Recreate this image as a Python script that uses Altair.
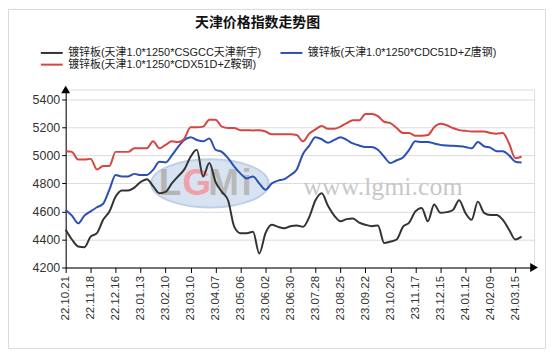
import altair as alt
import pandas as pd

# ---- data ----
dates = [
    "22.10.21", "22.10.28", "22.11.04", "22.11.11", "22.11.18", "22.11.25", "22.12.02", "22.12.09",
    "22.12.16", "22.12.23", "22.12.30", "23.01.06", "23.01.13", "23.01.20", "23.01.27", "23.02.03",
    "23.02.10", "23.02.17", "23.02.24", "23.03.03", "23.03.10", "23.03.17", "23.03.24", "23.03.31",
    "23.04.07", "23.04.14", "23.04.21", "23.04.28", "23.05.06", "23.05.12", "23.05.19", "23.05.26",
    "23.06.02", "23.06.09", "23.06.16", "23.06.23", "23.06.30", "23.07.07", "23.07.14", "23.07.21",
    "23.07.28", "23.08.04", "23.08.11", "23.08.18", "23.08.25", "23.09.01", "23.09.08", "23.09.15",
    "23.09.22", "23.09.29", "23.10.06", "23.10.13", "23.10.20", "23.10.27", "23.11.03", "23.11.10",
    "23.11.17", "23.11.24", "23.12.01", "23.12.08", "23.12.15", "23.12.22", "23.12.29", "24.01.05",
    "24.01.12", "24.01.19", "24.01.26", "24.02.02", "24.02.09", "24.02.23", "24.03.01", "24.03.08",
    "24.03.15", "24.03.22",
]

black = [4470, 4400, 4350, 4345, 4420, 4445, 4540, 4600, 4706, 4750,
         4750, 4770, 4810, 4830, 4780, 4730, 4740, 4800, 4850, 4900,
         4990, 5040, 4850, 4945, 4810, 4740, 4680, 4490, 4445, 4445,
         4455, 4300, 4445, 4505, 4490, 4480, 4495, 4500, 4490, 4560,
         4680, 4730, 4640, 4570, 4530, 4545, 4550, 4520, 4505, 4495,
         4500, 4375, 4385, 4400, 4490, 4520, 4600, 4625, 4530, 4650,
         4590, 4595, 4610, 4680, 4590, 4540, 4670, 4590, 4575, 4575,
         4540, 4470, 4400, 4420]

blue = [4610, 4570, 4515, 4570, 4600, 4630, 4655, 4755, 4860, 4850,
        4850, 4868, 4860, 4860, 4897, 4955, 4950, 5000, 5060, 5110,
        5130, 5110, 5100, 5120, 5040, 5025, 4980, 4920, 4870, 4835,
        4850, 4800, 4755, 4800, 4820, 4830, 4860, 4900, 5010, 5070,
        5130, 5115, 5090, 5110, 5130, 5110, 5085, 5070, 5060, 5060,
        5040, 4990, 4945, 4965, 4985, 5040, 5100, 5095, 5095, 5085,
        5075, 5070, 5068, 5065, 5060, 5050, 5095, 5065, 5055, 5030,
        5030, 5000, 4955, 4950]

red = [5030, 5025, 4970, 4970, 4975, 4900, 4925, 4925, 5025, 5025,
       5025, 5050, 5050, 5050, 5100, 5050, 5075, 5100, 5095, 5120,
       5200, 5200, 5205, 5255, 5255, 5205, 5195, 5195, 5180, 5180,
       5178, 5180, 5170, 5150, 5150, 5150, 5150, 5145, 5100, 5155,
       5185, 5210, 5190, 5190, 5205, 5230, 5250, 5250, 5295, 5295,
       5280, 5240, 5230, 5195, 5160, 5160, 5140, 5140, 5145, 5200,
       5225, 5215, 5195, 5180, 5175, 5170, 5170, 5170, 5160, 5155,
       5160, 5085, 4980, 4990]

name_black = "镀锌板(天津1.0*1250*CSGCC天津新宇)"
name_blue = "镀锌板(天津1.0*1250*CDC51D+Z唐钢)"
name_red = "镀锌板(天津1.0*1250*CDX51D+Z鞍钢)"
# legend is laid out column by column: black, red (col 1), blue (col 2)
legend_order = [name_black, name_red, name_blue]
legend_colors = ["#333333", "#d64541", "#2a4fb8"]
title_text = "天津价格指数走势图"
y_ticks = [4200, 4400, 4600, 4800, 5000, 5200, 5400]
tick_idx = list(range(0, 73, 4))

FONT = "Liberation Sans, Arial, Noto Sans CJK SC"

rows = []
for name, vals in [(name_black, black), (name_blue, blue), (name_red, red)]:
    for i, v in enumerate(vals):
        rows.append({"idx": i, "date": dates[i], "series": name, "value": v})
df = pd.DataFrame(rows)

label_js = "[" + ",".join("'" + d + "'" for d in dates) + "]"

x_scale = alt.Scale(domain=[0, 75], nice=False, zero=False)
y_scale = alt.Scale(domain=[4200, 5470], nice=False, zero=False)

x_axis = alt.Axis(values=tick_idx, labelExpr=label_js + "[datum.value]", labelAngle=270,
                  labelFontSize=11.5, labelColor="#333333", tickColor="#000000",
                  domainColor="#000000", tickSize=5, grid=False, title=None,
                  labelPadding=3, labelFont=FONT)
y_axis = alt.Axis(values=y_ticks, format="d", grid=True, gridColor="#dcdcdc",
                  domainColor="#000000", tickColor="#000000", tickSize=4,
                  labelFontSize=12.5, labelColor="#333333",
                  title=None, labelPadding=2, labelFont=FONT)

X = alt.X("idx:Q", scale=x_scale, axis=x_axis)
Y = alt.Y("value:Q", scale=y_scale, axis=y_axis)

# frame
frame = alt.Chart(pd.DataFrame({"a": [0]})).mark_rect(
    fillOpacity=0, stroke="#d9d9d9", strokeWidth=1
).encode(x=alt.value(-57.5), x2=alt.value(482.5), y=alt.value(-80.5), y2=alt.value(260.5))

# watermark logo
ellipse = alt.Chart(pd.DataFrame({"idx": [23.1], "value": [4800]})).mark_point(
    shape="M-1,0A1,0.41,0,1,0,1,0A1,0.41,0,1,0,-1,0Z",
    size=13924, filled=True, fill="#d3e0f0", stroke="#b8cae4", strokeWidth=2, opacity=0.9
).encode(x=X, y=Y)

logo_letters = pd.DataFrame({
    "idx": [16.7, 21.0, 25.3, 28.98],
    "value": [4718, 4718, 4718, 4718],
    "ch": ["L", "G", "M", "i"],
    "col": ["#b5b5b5", "#f0a0a8", "#b9b9b9", "#b9b9b9"],
})
logo = alt.Chart(logo_letters).mark_text(
    fontSize=37, fontWeight="bold", font="Liberation Sans", baseline="alphabetic"
).encode(x=X, y=Y, text="ch:N", fill=alt.Fill("col:N", scale=None, legend=None))

www = alt.Chart(pd.DataFrame({"idx": [50.8], "value": [4718], "t": ["www.lgmi.com"]})).mark_text(
    fontSize=26, font="Liberation Serif", color="#c8c8c8", baseline="alphabetic"
).encode(x=X, y=Y, text="t:N")

lines = alt.Chart(df).mark_line(strokeWidth=2, interpolate="monotone").encode(
    x=X, y=Y,
    color=alt.Color("series:N", scale=alt.Scale(domain=legend_order, range=legend_colors),
                    legend=alt.Legend(title=None, orient="none", legendX=-20.5, legendY=-43.5,
                                      columns=2, symbolType="M-2,0L2,0", symbolStrokeWidth=2,
                                      symbolSize=121, labelOffset=10, labelFontSize=11,
                                      labelLimit=0, rowPadding=0, columnPadding=14,
                                      labelFont=FONT, labelColor="#222222")),
)

arrows = alt.Chart(pd.DataFrame({"idx": [0, 75], "value": [5470, 4200],
                                 "shp": ["triangle-up", "triangle-right"]})).mark_point(
    filled=True, fill="#000000", size=80, opacity=1
).encode(x=X, y=Y, shape=alt.Shape("shp:N", scale=None, legend=None))

title = alt.Chart(pd.DataFrame({"t": [title_text]})).mark_text(
    fontSize=14, fontWeight="bold", color="#111111", font=FONT
).encode(text="t:N", x=alt.value(193), y=alt.value(-67))

chart = alt.layer(frame, ellipse, logo, www, lines, arrows, title).properties(
    width=471, height=179,
    autosize=alt.AutoSizeParams(type="none"),
    padding={"left": 58, "top": 81, "right": 12, "bottom": 82},
).configure_view(stroke=None).configure(font=FONT)

chart.save("out.html", embed_options={"renderer": "svg", "actions": False})
